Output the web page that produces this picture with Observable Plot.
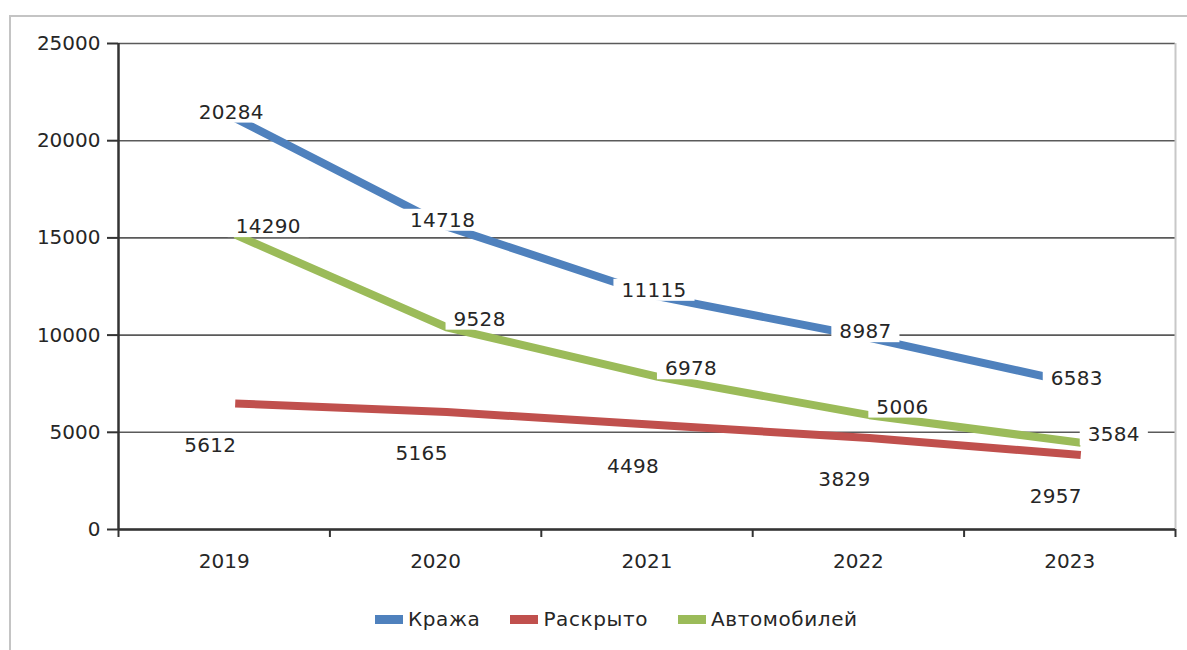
<!DOCTYPE html>
<html><head><meta charset="utf-8">
<script src="https://cdn.jsdelivr.net/npm/d3@7"></script>
<script src="https://cdn.jsdelivr.net/npm/@observablehq/plot@0.6"></script>
<style>
body{margin:0;background:#fff;font-family:"DejaVu Sans",sans-serif;}
#wrap{position:relative;width:1187px;height:650px;overflow:hidden;background:#fff;}
#chart{position:absolute;left:0;top:0;}
#frame{position:absolute;left:9px;top:15px;width:1300px;height:700px;border-left:2px solid #c4c4c4;border-top:2px solid #c4c4c4;pointer-events:none;}
#legend{position:absolute;left:375px;top:607px;display:flex;align-items:center;font-size:20px;letter-spacing:0.6px;color:#262626;white-space:nowrap;}
#legend .sw{display:inline-block;width:28px;height:9px;margin-right:5px;}
#legend .it{display:flex;align-items:center;margin-right:30px;}
</style>
</head><body>
<div id="wrap"><div id="chart"></div><div id="frame"></div><div id="legend"></div></div>
<script>
const years = [2019, 2020, 2021, 2022, 2023];
const theft = [20284, 14718, 11115, 8987, 6583];
const solved = [5612, 5165, 4498, 3829, 2957];
const cars = [14290, 9528, 6978, 5006, 3584];
const seriesNames = ["Кража", "Раскрыто", "Автомобилей"];
const seriesColors = ["#4F81BD", "#C0504D", "#9BBB59"];
const yTicks = [0, 5000, 10000, 15000, 20000, 25000];

const seriesValues = [theft, solved, cars];
const rows = [];
seriesNames.forEach((s, k) => years.forEach((y, i) => rows.push({series: s, year: y, value: seriesValues[k][i]})));
const bounds = [years[0] - 0.5, ...years.map(y => y + 0.5)];

// label offsets per series (style)
const labelStyle = {
  "Кража": {dx: 7, dy: -23},
  "Раскрыто": {dx: -14, dy: 25},
  "Автомобилей": {dx: 44, dy: -25}
};

const plot = Plot.plot({
  width: 1187,
  height: 650,
  marginLeft: 118,
  marginRight: 12,
  marginTop: 43,
  marginBottom: 121,
  style: {fontFamily: "DejaVu Sans", fontSize: "20px", color: "#262626", background: "transparent"},
  x: {domain: [bounds[0], bounds[bounds.length - 1]]},
  y: {domain: [0, 25000]},
  color: {domain: seriesNames, range: seriesColors},
  marks: [
    Plot.gridY(yTicks, {stroke: "#5a5a5a", strokeOpacity: 1, strokeWidth: 1.6}),
    Plot.ruleX([bounds[bounds.length - 1]], {stroke: "#c8c8c8", strokeWidth: 2}),
    Plot.axisY({ticks: yTicks, tickSize: 11, tickPadding: 7, tickFormat: d3.format("d"), label: null, stroke: "#333", strokeWidth: 2}),
    Plot.axisX({ticks: bounds, tickSize: 8, tickFormat: () => "", label: null, stroke: "#333", strokeWidth: 2}),
    Plot.axisX({ticks: years, tickSize: 0, tickPadding: 24, tickFormat: d => String(d), label: null}),
    Plot.ruleX([bounds[0]], {stroke: "#333", strokeWidth: 2.5}),
    Plot.ruleY([0], {stroke: "#333", strokeWidth: 2.5}),
    Plot.line(rows, {x: "year", y: "value", z: "series", stroke: "series", strokeWidth: 8, dx: 11, dy: -17, strokeLinecap: "butt", strokeLinejoin: "round"}),
    ...seriesNames.map(s => Plot.text(rows.filter(d => d.series === s), {
      x: "year", y: "value", text: d => String(d.value),
      dx: labelStyle[s].dx, dy: labelStyle[s].dy,
      fill: "#262626", className: "lbl"
    }))
  ]
});
document.getElementById("chart").appendChild(plot);

// white boxes behind data labels
plot.querySelectorAll("g[aria-label='text'] text").forEach(t => {
  t.setAttribute("letter-spacing", "0.3");
  const b = t.getBBox();
  const r = document.createElementNS("http://www.w3.org/2000/svg", "rect");
  r.setAttribute("x", b.x - 8);
  r.setAttribute("y", b.y + 1);
  r.setAttribute("width", b.width + 16);
  r.setAttribute("height", b.height - 2);
  r.setAttribute("fill", "white");
  r.setAttribute("stroke", "none");
  const tr = t.getAttribute("transform");
  if (tr) r.setAttribute("transform", tr);
  t.parentNode.insertBefore(r, t);
});

const legend = document.getElementById("legend");
seriesNames.forEach((s, k) => {
  const it = document.createElement("div");
  it.className = "it";
  const sw = document.createElement("span");
  sw.className = "sw";
  sw.style.background = seriesColors[k];
  const tx = document.createElement("span");
  tx.textContent = s;
  it.appendChild(sw); it.appendChild(tx);
  legend.appendChild(it);
});
</script>
</body></html>
